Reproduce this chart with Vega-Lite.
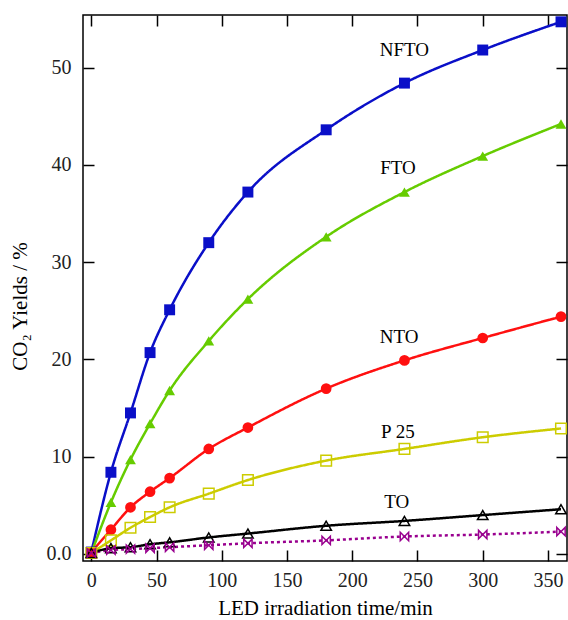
{
  "$schema": "https://vega.github.io/schema/vega-lite/v6.json",
  "width": 484,
  "height": 546,
  "autosize": {"type": "none"},
  "padding": {"left": 83, "top": 15, "right": 1, "bottom": 59},
  "background": "white",
  "config": {
    "view": {"stroke": "black", "strokeWidth": 1.5},
    "font": "Liberation Serif",
    "axis": {
      "grid": false,
      "domain": false,
      "tickColor": "black",
      "tickWidth": 1.5,
      "tickSize": -11,
      "labelFont": "Liberation Serif",
      "labelFontSize": 20,
      "labelColor": "#222",
      "titleFont": "Liberation Serif",
      "titleFontWeight": "normal",
      "titleColor": "black"
    }
  },
  "datasets": {
    "series": [
      {"s": "NFTO", "t": 0, "y": 0.2}, {"s": "NFTO", "t": 15, "y": 8.4}, {"s": "NFTO", "t": 30, "y": 14.5}, {"s": "NFTO", "t": 45, "y": 20.7}, {"s": "NFTO", "t": 60, "y": 25.1}, {"s": "NFTO", "t": 90, "y": 32.0}, {"s": "NFTO", "t": 120, "y": 37.2}, {"s": "NFTO", "t": 180, "y": 43.6}, {"s": "NFTO", "t": 240, "y": 48.4}, {"s": "NFTO", "t": 300, "y": 51.8}, {"s": "NFTO", "t": 360, "y": 54.7},
      {"s": "FTO", "t": 0, "y": 0.1}, {"s": "FTO", "t": 15, "y": 5.3}, {"s": "FTO", "t": 30, "y": 9.7}, {"s": "FTO", "t": 45, "y": 13.4}, {"s": "FTO", "t": 60, "y": 16.8}, {"s": "FTO", "t": 90, "y": 21.9}, {"s": "FTO", "t": 120, "y": 26.2}, {"s": "FTO", "t": 180, "y": 32.6}, {"s": "FTO", "t": 240, "y": 37.2}, {"s": "FTO", "t": 300, "y": 40.9}, {"s": "FTO", "t": 360, "y": 44.2},
      {"s": "P 25", "t": 0, "y": 0.1}, {"s": "P 25", "t": 15, "y": 1.4}, {"s": "P 25", "t": 30, "y": 2.7}, {"s": "P 25", "t": 45, "y": 3.8}, {"s": "P 25", "t": 60, "y": 4.8}, {"s": "P 25", "t": 90, "y": 6.2}, {"s": "P 25", "t": 120, "y": 7.6}, {"s": "P 25", "t": 180, "y": 9.6}, {"s": "P 25", "t": 240, "y": 10.8}, {"s": "P 25", "t": 300, "y": 12.0}, {"s": "P 25", "t": 360, "y": 12.9},
      {"s": "Blank", "t": 0, "y": 0.1}, {"s": "Blank", "t": 15, "y": 0.4}, {"s": "Blank", "t": 30, "y": 0.5}, {"s": "Blank", "t": 45, "y": 0.6}, {"s": "Blank", "t": 60, "y": 0.7}, {"s": "Blank", "t": 90, "y": 0.9}, {"s": "Blank", "t": 120, "y": 1.1}, {"s": "Blank", "t": 180, "y": 1.4}, {"s": "Blank", "t": 240, "y": 1.8}, {"s": "Blank", "t": 300, "y": 2.0}, {"s": "Blank", "t": 360, "y": 2.3},
      {"s": "TO", "t": 0, "y": 0.1}, {"s": "TO", "t": 15, "y": 0.6}, {"s": "TO", "t": 30, "y": 0.7}, {"s": "TO", "t": 45, "y": 1.0}, {"s": "TO", "t": 60, "y": 1.2}, {"s": "TO", "t": 90, "y": 1.7}, {"s": "TO", "t": 120, "y": 2.1}, {"s": "TO", "t": 180, "y": 2.9}, {"s": "TO", "t": 240, "y": 3.4}, {"s": "TO", "t": 300, "y": 4.0}, {"s": "TO", "t": 360, "y": 4.6},
      {"s": "NTO", "t": 0, "y": 0.2}, {"s": "NTO", "t": 15, "y": 2.5}, {"s": "NTO", "t": 30, "y": 4.8}, {"s": "NTO", "t": 45, "y": 6.4}, {"s": "NTO", "t": 60, "y": 7.8}, {"s": "NTO", "t": 90, "y": 10.8}, {"s": "NTO", "t": 120, "y": 13.0}, {"s": "NTO", "t": 180, "y": 17.0}, {"s": "NTO", "t": 240, "y": 19.9}, {"s": "NTO", "t": 300, "y": 22.2}, {"s": "NTO", "t": 360, "y": 24.4}
    ],
    "labels": [
      {"label": "NFTO", "t": 240, "y": 51.8},
      {"label": "FTO", "t": 235, "y": 39.7},
      {"label": "NTO", "t": 236, "y": 22.3},
      {"label": "P 25", "t": 235, "y": 12.5},
      {"label": "TO", "t": 234, "y": 5.3}
    ]
  },
  "layer": [
    {
      "data": {"name": "series"},
      "mark": {"type": "line", "interpolate": "monotone", "strokeWidth": 2.5, "clip": true},
      "encoding": {
        "x": {"field": "t", "type": "quantitative", "scale": {"domain": [-6.4, 364.6], "nice": false, "zero": false},
          "axis": {"orient": "bottom", "values": [0, 50, 100, 150, 200, 250, 300, 350], "labelPadding": 20, "title": "LED irradiation time/min", "titleFontSize": 21, "titlePadding": 7}},
        "y": {"field": "y", "type": "quantitative", "scale": {"domain": [-0.72, 55.4], "nice": false, "zero": false},
          "axis": {"orient": "left", "values": [0, 10, 20, 30, 40, 50], "labelPadding": 23, "labelExpr": "datum.value == 0 ? '0.0' : datum.label", "title": "CO₂  Yields / %", "titleX": -53, "titleY": 291, "titleFontSize": 21}},
        "color": {"field": "s", "type": "nominal", "legend": null,
          "scale": {"domain": ["NFTO", "FTO", "NTO", "P 25", "TO", "Blank"], "range": ["#0a0fc8", "#66cc00", "#ff1010", "#cccc00", "#000000", "#99008f"]}},
        "strokeDash": {"field": "s", "type": "nominal", "legend": null,
          "scale": {"domain": ["NFTO", "FTO", "NTO", "P 25", "TO", "Blank"], "range": [[1, 0], [1, 0], [1, 0], [1, 0], [1, 0], [3, 3]]}},
        "order": {"field": "t", "type": "quantitative"}
      }
    },
    {
      "data": {"name": "series"},
      "transform": [{"filter": "indexof(['NFTO','FTO','NTO'], datum.s) >= 0"}],
      "mark": {"type": "point", "filled": true, "opacity": 1, "clip": true},
      "encoding": {
        "x": {"field": "t", "type": "quantitative", "axis": {"orient": "top", "values": [0, 50, 100, 150, 200, 250, 300, 350], "labels": false, "title": null}},
        "y": {"field": "y", "type": "quantitative", "axis": {"orient": "right", "values": [0, 10, 20, 30, 40, 50], "labels": false, "title": null}},
        "color": {"field": "s", "type": "nominal", "legend": null},
        "shape": {"field": "s", "type": "nominal", "legend": null,
          "scale": {"domain": ["NFTO", "FTO", "NTO"], "range": ["square", "triangle-up", "circle"]}},
        "size": {"field": "s", "type": "nominal", "legend": null,
          "scale": {"domain": ["NFTO", "FTO", "NTO"], "range": [120, 110, 140]}}
      }
    },
    {
      "data": {"name": "series"},
      "transform": [{"filter": "indexof(['P 25','TO'], datum.s) >= 0"}],
      "mark": {"type": "point", "filled": false, "strokeWidth": 1.5, "opacity": 1, "clip": true},
      "encoding": {
        "x": {"field": "t", "type": "quantitative", "axis": null},
        "y": {"field": "y", "type": "quantitative", "axis": null},
        "color": {"field": "s", "type": "nominal", "legend": null},
        "shape": {"field": "s", "type": "nominal", "legend": null,
          "scale": {"domain": ["P 25", "TO"], "range": ["square", "triangle-up"]}},
        "size": {"field": "s", "type": "nominal", "legend": null,
          "scale": {"domain": ["P 25", "TO"], "range": [110, 90]}}
      }
    },
    {
      "data": {"name": "series"},
      "transform": [{"filter": "datum.s == 'Blank'"}],
      "mark": {"type": "point", "filled": false, "strokeWidth": 1.5, "opacity": 1, "clip": true, "shape": "M-1,-1L1,1L1,-1L-1,1Z", "size": 70, "color": "#99008f"},
      "encoding": {
        "x": {"field": "t", "type": "quantitative", "axis": null},
        "y": {"field": "y", "type": "quantitative", "axis": null}
      }
    },
    {
      "data": {"name": "labels"},
      "mark": {"type": "text", "font": "Liberation Serif", "fontSize": 19, "color": "black", "align": "center", "baseline": "middle"},
      "encoding": {
        "x": {"field": "t", "type": "quantitative", "axis": null},
        "y": {"field": "y", "type": "quantitative", "axis": null},
        "text": {"field": "label"}
      }
    }
  ],
  "resolve": {"axis": {"x": "independent", "y": "independent"}}
}
